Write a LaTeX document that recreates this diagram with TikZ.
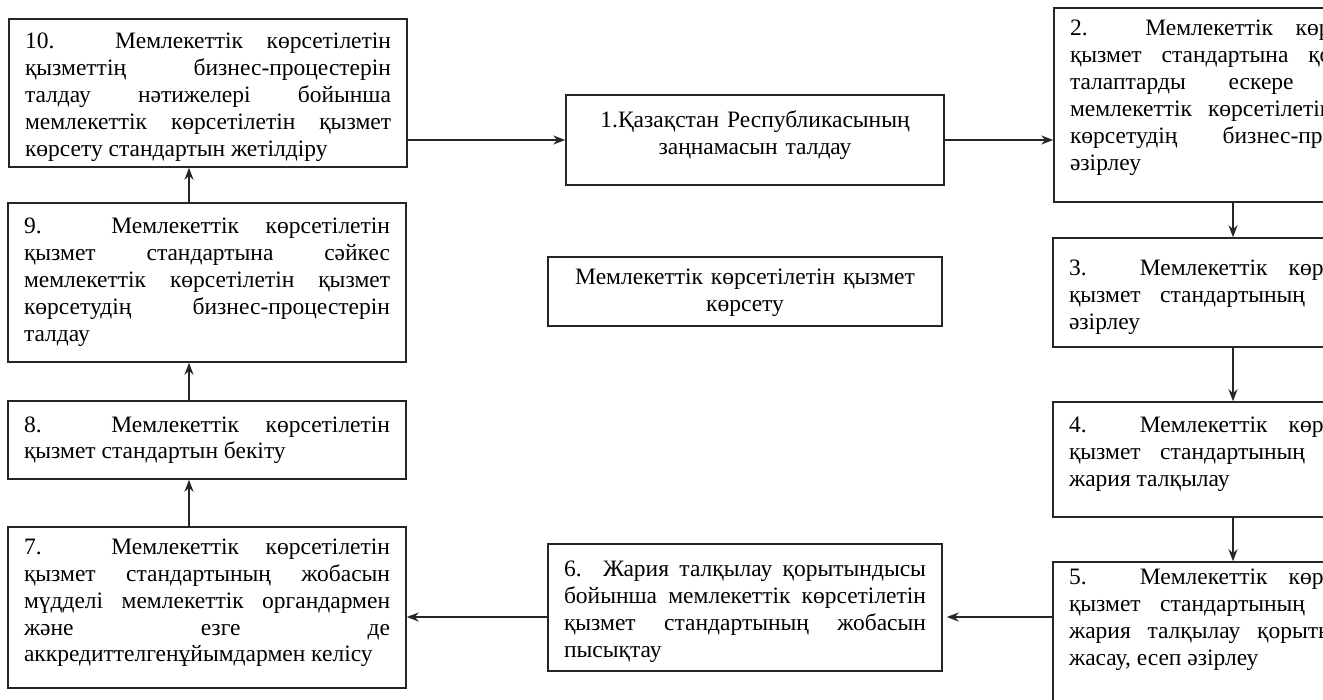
\documentclass[tikz,border=0pt]{standalone}
\usepackage{fontspec}
\setmainfont{Liberation Serif}
\usepackage{tikz}
\usetikzlibrary{shapes,arrows,arrows.meta}

\begin{document}
\begin{tikzpicture}[x=1pt,y=-1pt]
	\tikzstyle{etap}=[rectangle,draw=black!85,line width=1.5pt,text width=366pt,
	align=justify,inner xsep=16pt,inner ysep=0pt,
	font=\fontsize{23.5}{27}\selectfont,
	execute at begin node={\tolerance=10000 \hyphenpenalty=10000 }]
	\tikzstyle{ortasy}=[etap,align=center]

	\path[use as bounding box] (0,0) rectangle (1323,700);
	\clip (0,0) rectangle (1323,700);

	\node[etap,text height=30pt,text depth=118pt] (a10) at (208,93) {10. Мемлекеттік
	көрсетілетін\linebreak қызметтің бизнес-процестерін\linebreak талдау нәтижелері
	бойынша\linebreak мемлекеттік көрсетілетін қызмет\linebreak көрсету стандартын
	жетілдіру};
	\node[etap,text height=31pt,text depth=128pt] (a9) at (207,282.5) {9. Мемлекеттік
	көрсетілетін\linebreak қызмет стандартына сәйкес\linebreak мемлекеттік
	көрсетілетін қызмет\linebreak көрсетудің бизнес-процестерін\linebreak талдау};
	\node[etap,text height=31pt,text depth=47pt] (a8) at (207,440) {8. Мемлекеттік
	көрсетілетін\linebreak қызмет стандартын бекіту};
	\node[etap,text height=27pt,text depth=134pt] (a7) at (207,607.5) {7. Мемлекеттік
	көрсетілетін\linebreak қызмет стандартының жобасын\linebreak мүдделі мемлекеттік
	органдармен\linebreak және езге де\linebreak аккредиттелгенұйымдармен келісу};

	\node[ortasy,text width=346pt,text height=33pt,text depth=57pt] (a1) at (755,140)
	{1.Қазақстан Республикасының\\заңнамасын талдау};
	\node[ortasy,text width=362pt,text height=28pt,text depth=41pt] (a0) at (745,291.5)
	{Мемлекеттік көрсетілетін қызмет\\көрсету};
	\node[etap,text width=362pt,text height=32pt,text depth=95pt] (a6) at (745,607.5)
	{6. Жария талқылау қорытындысы\linebreak бойынша мемлекеттік
	көрсетілетін\linebreak қызмет стандартының жобасын\linebreak пысықтау};

	\node[etap,text width=350pt,text height=28pt,text depth=166pt] (a2) at (1245,105)
	{2. Мемлекеттік көрсетілетін\linebreak қызмет стандартына қойылатын\linebreak
	талаптарды ескере отырып,\linebreak мемлекеттік көрсетілетін қызмет\linebreak
	көрсетудің бизнес-процестерін\linebreak әзірлеу};
	\node[etap,text width=344pt,text height=38pt,text depth=71pt] (a3) at (1241,292.5)
	{3. Мемлекеттік көрсетілетін\linebreak қызмет стандартының жобасын\linebreak
	әзірлеу};
	\node[etap,text width=344pt,text height=31pt,text depth=84pt] (a4) at (1241,459.5)
	{4. Мемлекеттік көрсетілетін\linebreak қызмет стандартының жобасын\linebreak
	жария талқылау};
	\node[etap,text width=344pt,text height=22pt,text depth=128pt] (a5) at (1241,637)
	{5. Мемлекеттік көрсетілетін\linebreak қызмет стандартының жобасын\linebreak
	жария талқылау қорытындысын\linebreak жасау, есеп әзірлеу};

	\tikzstyle{bagyt}=[->,>={Stealth[length=12pt,width=9pt]},line width=1.8pt,
	draw=black!85]

	\draw[bagyt] (a10.east |- a1.west) -- (a1.west);
	\draw[bagyt] (a1.east) -- (a1.east -| a2.west);
	\draw[bagyt] ([xshift=-8pt]a3.north |- a2.south) -- ([xshift=-8pt]a3.north);
	\draw[bagyt] ([xshift=-8pt]a3.south) -- ([xshift=-8pt]a4.north);
	\draw[bagyt] ([xshift=-8pt]a4.south) -- ([xshift=-8pt]a5.north);
	\draw[bagyt] ([yshift=-9.5pt]a6.east -| a5.west) -- ([yshift=-9.5pt,xshift=4pt]a6.east);
	\draw[bagyt] ([yshift=-9.5pt]a6.west) -- ([yshift=-9.5pt]a6.west -| a7.east);
	\draw[bagyt] ([xshift=-18pt]a7.north) -- ([xshift=-18pt]a7.north |- a8.south);
	\draw[bagyt] ([xshift=-18pt]a8.north) -- ([xshift=-18pt]a8.north |- a9.south);
	\draw[bagyt] ([xshift=-18pt]a9.north) -- ([xshift=-18pt]a9.north |- a10.south);
\end{tikzpicture}
\end{document}
